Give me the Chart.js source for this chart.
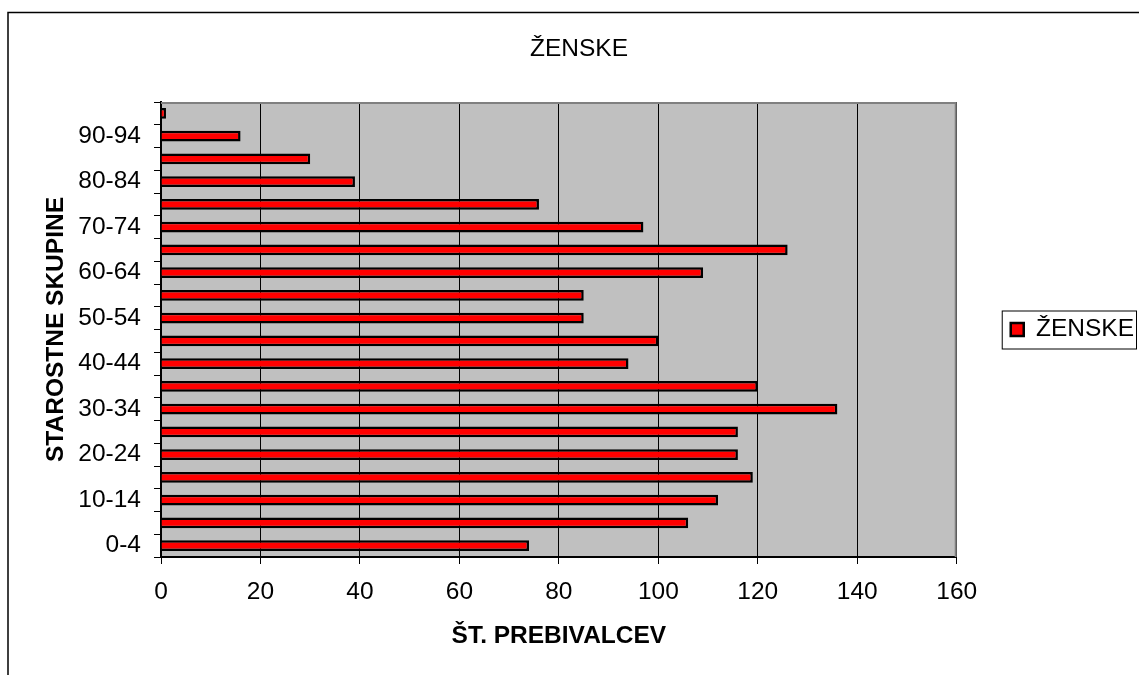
<!DOCTYPE html>
<html>
<head>
<meta charset="utf-8">
<script src="https://cdn.jsdelivr.net/npm/chart.js@4/dist/chart.umd.min.js"></script>
<style>
  html, body { margin: 0; padding: 0; background: #fff; }
  #wrap { width: 1139px; height: 675px; }
</style>
</head>
<body>
<div id="wrap"><canvas id="chart" width="1139" height="675"></canvas></div>
<script>
// age groups, bottom to top
var ageGroups = ["0-4","5-9","10-14","15-19","20-24","25-29","30-34","35-39","40-44","45-49",
                 "50-54","55-59","60-64","65-69","70-74","75-79","80-84","85-89","90-94","95+"];
var zenske = [74,106,112,119,116,116,136,120,94,100,85,85,109,126,97,76,39,30,16,1];
var xTicks = [0,20,40,60,80,100,120,140,160];

var FONT = "'Liberation Sans', Arial, sans-serif";

// grey plot area, outer frame, plot border, legend frame
var decor = {
    id: 'decor',
    beforeDraw: function(chart) {
        var ctx = chart.ctx, a = chart.chartArea;
        ctx.save();
        ctx.fillStyle = '#fff';
        ctx.fillRect(0, 0, chart.width, chart.height);
        ctx.fillStyle = '#c0c0c0';
        ctx.fillRect(a.left, a.top, a.right - a.left, a.bottom - a.top);
        ctx.strokeStyle = '#000';
        ctx.lineWidth = 1.5;
        ctx.beginPath();
        ctx.moveTo(8, chart.height);
        ctx.lineTo(8, 12.5);
        ctx.lineTo(chart.width, 12.5);
        ctx.stroke();
        ctx.restore();
    },
    beforeDatasetsDraw: function(chart) {
        var ctx = chart.ctx, a = chart.chartArea;
        ctx.save();
        ctx.strokeStyle = '#808080';
        ctx.lineWidth = 2;
        ctx.beginPath();
        ctx.moveTo(a.left, a.top + 1);
        ctx.lineTo(a.right - 1, a.top + 1);
        ctx.lineTo(a.right - 1, a.bottom);
        ctx.stroke();
        ctx.restore();
    },
    afterDraw: function(chart) {
        var ctx = chart.ctx;
        var hb = chart.legend.legendHitBoxes[0];
        if (!hb) return;
        var cy = hb.top + hb.height / 2;
        ctx.save();
        ctx.strokeStyle = '#000';
        ctx.lineWidth = 1;
        ctx.strokeRect(hb.left - 8.5, cy - 18.5, hb.width + 11, 38);
        ctx.restore();
    }
};

var ctx = document.getElementById("chart").getContext("2d");
var chart = new Chart(ctx, {
    type: 'bar',
    data: {
        labels: ageGroups,
        datasets: [{
            label: 'ŽENSKE',
            data: zenske,
            backgroundColor: '#ff0000',
            borderColor: '#000',
            borderWidth: 2.5,
            barPercentage: 0.48,
            categoryPercentage: 1
        }]
    },
    options: {
        indexAxis: 'y',
        responsive: false,
        animation: false,
        layout: { padding: { left: 14, right: -5, top: 0, bottom: 0 } },
        plugins: {
            title: {
                display: true,
                text: 'ŽENSKE',
                color: '#000',
                font: { family: FONT, size: 24.5, weight: 'normal' },
                padding: { top: 35, bottom: 37.6 }
            },
            legend: {
                display: true,
                position: 'right',
                fullSize: false,
                labels: {
                    color: '#000',
                    font: { family: FONT, size: 24.5 },
                    boxWidth: 13,
                    boxHeight: 13,
                    padding: 54
                }
            },
            tooltip: { enabled: false }
        },
        scales: {
            x: {
                min: 0,
                max: 160,
                afterFit: function(scale) { scale.height = 118; },
                afterBuildTicks: function(scale) {
                    scale.ticks = xTicks.map(function(v) { return { value: v }; });
                },
                ticks: {
                    color: '#000',
                    font: { family: FONT, size: 24.5 },
                    padding: 14
                },
                grid: {
                    color: '#000',
                    lineWidth: 1,
                    tickLength: 7,
                    tickColor: '#000'
                },
                border: { color: '#000', width: 2 },
                title: {
                    display: true,
                    text: 'ŠT. PREBIVALCEV',
                    color: '#000',
                    font: { family: FONT, size: 24.5, weight: 'bold' },
                    padding: { top: 0, bottom: 23.8 }
                }
            },
            y: {
                reverse: true,
                afterFit: function(scale) { scale.width = 147; },
                ticks: {
                    autoSkip: false,
                    color: '#000',
                    font: { family: FONT, size: 24.5 },
                    padding: 13,
                    callback: function(value, index) {
                        return index % 2 === 0 ? this.getLabelForValue(value) : '';
                    }
                },
                grid: {
                    drawOnChartArea: false,
                    drawTicks: true,
                    tickLength: 7,
                    color: '#000',
                    tickColor: '#000'
                },
                border: { color: '#000', width: 2 },
                title: {
                    display: true,
                    text: 'STAROSTNE SKUPINE',
                    color: '#000',
                    font: { family: FONT, size: 24.5, weight: 'bold' },
                    padding: { top: 28, bottom: 0 }
                }
            }
        }
    },
    plugins: [decor]
});
</script>
</body>
</html>
